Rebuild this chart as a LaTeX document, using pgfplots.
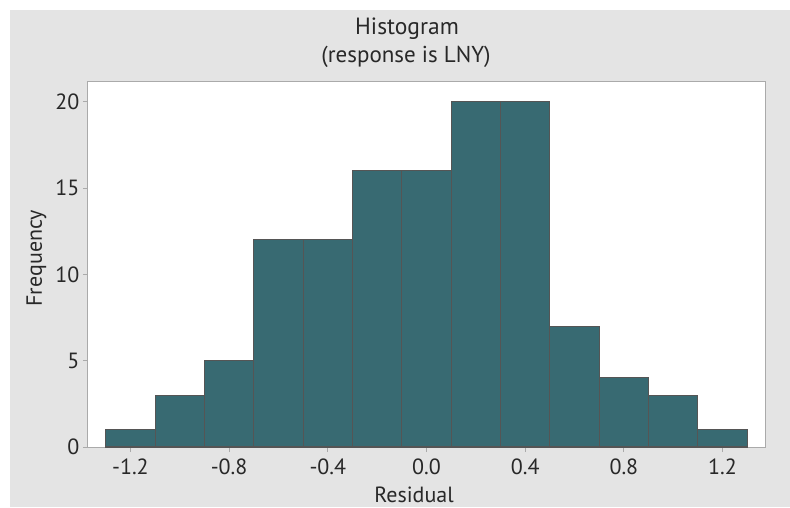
\documentclass[border=0pt]{standalone}
\usepackage{pgfplots}
\pgfplotsset{compat=1.18}
\usepackage{fontspec}
\setmainfont{PT Sans}
\definecolor{bgc}{RGB}{228,228,228}
\definecolor{barc}{RGB}{56,106,114}
\definecolor{edgec}{RGB}{85,85,85}
\definecolor{framec}{RGB}{170,170,170}
\definecolor{txt}{RGB}{40,40,40}
\begin{document}
\begin{tikzpicture}[x=1pt,y=1pt]
\path[use as bounding box] (0,0) rectangle (790,507);
\fill[bgc] (10,0) rectangle (790,497);
\node[font=\fontsize{23.5}{28}\selectfont, text=txt, anchor=base] at (407,472) {Histogram};
\node[font=\fontsize{23}{28}\selectfont, text=txt, anchor=base] at (406,444) {(response is LNY)};
\begin{axis}[
  at={(88pt,60pt)}, anchor=south west,
  scale only axis, width=677pt, height=366pt,
  xmin=-1.372, xmax=1.372, ymin=0, ymax=21.2,
  axis background/.style={fill=white},
  axis line style={framec, line width=1pt},
  xtick={-1.2,-0.8,-0.4,0,0.4,0.8,1.2},
  xticklabels={-1.2,-0.8,-0.4,0.0,0.4,0.8,1.2},
  ytick={0,5,10,15,20},
  xtick pos=bottom, ytick pos=left,
  tick align=outside, major tick length=5pt,
  tick style={framec, line width=1pt},
  /pgf/number format/assume math mode=true,
  ticklabel style={font=\fontsize{22}{26}\selectfont, text=txt},
  xticklabel style={yshift=-3pt},
  xlabel={Residual}, ylabel={Frequency},
  label style={font=\fontsize{22}{26}\selectfont, text=txt},
  xlabel style={at={(axis description cs:0.4815,0)}, anchor=base, yshift=-55pt},
  ylabel style={at={(axis description cs:-0.068,0.516)}, anchor=base, rotate=0},
]
\addplot[ybar interval, fill=barc, draw=edgec, line width=1.1pt] coordinates {
(-1.3,1) (-1.1,3) (-0.9,5) (-0.7,12) (-0.5,12) (-0.3,16) (-0.1,16)
(0.1,20) (0.3,20) (0.5,7) (0.7,4) (0.9,3) (1.1,1) (1.3,1)};
\end{axis}
\end{tikzpicture}
\end{document}
